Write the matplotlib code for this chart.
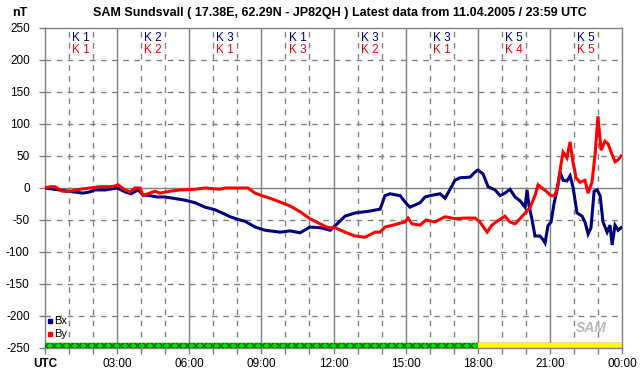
import numpy as np
import matplotlib
matplotlib.use('Agg')
import matplotlib.pyplot as plt

plt.rcParams['font.family'] = ['Liberation Sans', 'DejaVu Sans']
plt.rcParams['hatch.linewidth'] = 1.0

# Bx (blue) - hours / nT
bx_h = [0, 1.16, 1.58, 1.87, 2.08, 2.50, 3.0, 3.33, 3.58, 3.87, 4.08, 4.37, 4.66, 4.99,
        5.32, 5.82, 6.24, 6.66, 7.07, 7.49, 7.70, 8.11, 8.32, 8.74, 9.15, 9.78, 10.19,
        10.61, 11.02, 11.44, 11.86, 12.15, 12.48, 12.90, 13.52, 13.94, 14.14, 14.35,
        14.77, 14.98, 15.18, 15.60, 15.81, 16.01, 16.43, 16.64, 16.85, 17.05, 17.26,
        17.68, 17.89, 18.01, 18.22, 18.43, 18.72, 18.93, 19.13, 19.34, 19.55, 19.76,
        19.97, 20.05, 20.13, 20.26, 20.38, 20.59, 20.72, 20.80, 20.92, 21.05, 21.17,
        21.30, 21.42, 21.55, 21.71, 21.84, 21.96, 22.13, 22.34, 22.46, 22.59, 22.71,
        22.84, 22.96, 23.09, 23.21, 23.38, 23.50, 23.59, 23.71, 23.84, 23.96]
bx_v = [0, -6, -8, -6, -3, -3, 0, -6, -9, -3, -11, -12, -14, -14,
        -16, -19, -23, -30, -34, -41, -45, -50, -52, -61, -66, -69, -67,
        -70, -61, -62, -66, -56, -44, -39, -36, -33, -12, -9,
        -12, -22, -30, -23, -14, -12, -9, -16, -2, 12, 16,
        17, 25, 28, 22, 2, -3, -12, -8, -2, -14, -20,
        -30, -3, -27, -50, -75, -75, -81, -86, -59, -53, -25,
        -3, 25, 12, 11, 19, 2, -39, -44, -53, -72, -62,
        -5, -3, -12, -53, -69, -58, -89, -58, -66, -62]

# By (red)
by_h = [0, 0.21, 0.42, 0.71, 1.04, 1.46, 1.87, 2.29, 2.70, 2.91, 3.04, 3.33, 3.54, 3.74,
        3.95, 4.08, 4.28, 4.58, 4.78, 5.20, 5.62, 6.24, 6.66, 7.28, 7.49, 8.11, 8.44,
        8.74, 9.03, 9.36, 9.78, 10.19, 10.61, 11.02, 11.44, 11.77, 12.06, 12.48, 12.90,
        13.31, 13.73, 13.94, 14.14, 14.48, 14.77, 14.98, 15.10, 15.27, 15.60, 15.85,
        16.22, 16.64, 17.05, 17.47, 17.89, 18.09, 18.39, 18.59, 18.80, 19.13, 19.34,
        19.55, 19.76, 19.97, 20.17, 20.38, 20.51, 20.67, 20.88, 21.05, 21.21, 21.34,
        21.46, 21.55, 21.71, 21.84, 21.96, 22.09, 22.25, 22.46, 22.59, 22.75, 22.88,
        23.0, 23.13, 23.29, 23.42, 23.59, 23.71, 23.84, 23.96]
by_v = [0, 2, 2, -5, -5, -2, 0, 2, 2, 3, 5, -3, -6, 0,
        0, -12, -9, -5, -8, -5, -3, -2, 0, -2, 0, 0, 0,
        -8, -12, -16, -22, -28, -37, -48, -56, -62, -62, -69, -75,
        -77, -69, -69, -61, -58, -55, -53, -47, -56, -58, -50,
        -53, -45, -48, -47, -47, -53, -69, -58, -52, -44, -53,
        -56, -48, -39, -31, -12, 5, 0, -6, -12, -12, 5,
        36, 56, 47, 72, 41, 16, 9, 12, -8, 9, 52,
        112, 59, 73, 69, 52, 41, 44, 50]

# K indices per 3h block
k_x = ['K 1', 'K 2', 'K 3', 'K 1', 'K 3', 'K 3', 'K 5', 'K 5']
k_y = ['K 1', 'K 2', 'K 1', 'K 3', 'K 2', 'K 1', 'K 4', 'K 5']

xticks = [0, 3, 6, 9, 12, 15, 18, 21, 24]
xlabels = ['UTC', '03:00', '06:00', '09:00', '12:00', '15:00', '18:00', '21:00', '00:00']
yticks = [250, 200, 150, 100, 50, 0, -50, -100, -150, -200, -250]

fig = plt.figure(figsize=(6.42, 3.76), dpi=100)
ax = fig.add_axes([45/642, 28/376, 577/642, 320/376])
ax.set_xlim(0, 24)
ax.set_ylim(-250, 250)

grid = '#808080'
# vertical grid: solid every 3h, dashed every hour
for h in range(1, 24):
    if h % 3 == 0:
        ax.axvline(h, color=grid, lw=1.0, zorder=1)
    else:
        ax.axvline(h, color=grid, lw=1.0, ls=(0, (4, 4)), zorder=1)
for v in yticks[1:-1]:
    if v == 0:
        ax.axhline(v, color=grid, lw=1.0, zorder=1)
    else:
        ax.axhline(v, color=grid, lw=1.0, ls=(0, (4, 4)), zorder=1)

ax.plot(bx_h, bx_v, color='#000080', lw=2.2, zorder=3, solid_joinstyle='miter')
ax.plot(by_h, by_v, color='#ff0000', lw=2.2, zorder=4, solid_joinstyle='miter')

# activity strip at the bottom
ax.fill_between([0, 18], -250, -242, facecolor='#00dd00', edgecolor='#007000',
                hatch='xxxx', lw=0.3, zorder=5)
ax.fill_between([18, 24], -250, -242, facecolor='#ffff00', edgecolor='#ff0000',
                hatch='..', lw=0.3, zorder=5)
ax.fill_between([18, 24], -250, -242, facecolor='none', edgecolor='#ffff00', lw=1.0, zorder=6)

for i in range(8):
    ax.text(1.5 + 3 * i, 235, k_x[i], color='#000080', fontsize=8.5, ha='center', va='center')
    ax.text(1.5 + 3 * i, 215, k_y[i], color='#ff0000', fontsize=8.5, ha='center', va='center')

# legend
ax.plot([0.2], [-208], marker='s', ms=3, color='#000080', ls='none', zorder=6)
ax.text(0.4, -208, 'Bx', fontsize=8, va='center', color='black')
ax.plot([0.2], [-228], marker='s', ms=3, color='#ff0000', ls='none', zorder=6)
ax.text(0.4, -228, 'By', fontsize=8, va='center', color='black')

ax.text(22.7, -218, 'SAM', fontsize=10, style='italic', fontweight='bold',
        color='#b8b8b8', ha='center', va='center', zorder=2)

for s in ax.spines.values():
    s.set_color(grid)
    s.set_linewidth(1.0)

ax.set_xticks(xticks)
ax.set_xticklabels(xlabels, fontsize=8.5)
ax.get_xticklabels()[0].set_fontweight('bold')
ax.set_xticks(range(0, 25), minor=True)
ax.set_yticks(yticks)
ax.set_yticklabels([str(v) for v in yticks], fontsize=8.5)
ax.tick_params(axis='both', which='both', color=grid, length=4, width=1.0, direction='out')
ax.tick_params(axis='x', pad=3)
ax.tick_params(axis='y', pad=7)

fig.text(340/642, 1 - 13/376, 'SAM Sundsvall ( 17.38E, 62.29N - JP82QH ) Latest data from 11.04.2005 / 23:59 UTC',
         fontsize=9, fontweight='bold', ha='center', va='center')
fig.text(20/642, 1 - 13/376, 'nT', fontsize=9, fontweight='bold', ha='center', va='center')

fig.savefig('out.png', dpi=100)
